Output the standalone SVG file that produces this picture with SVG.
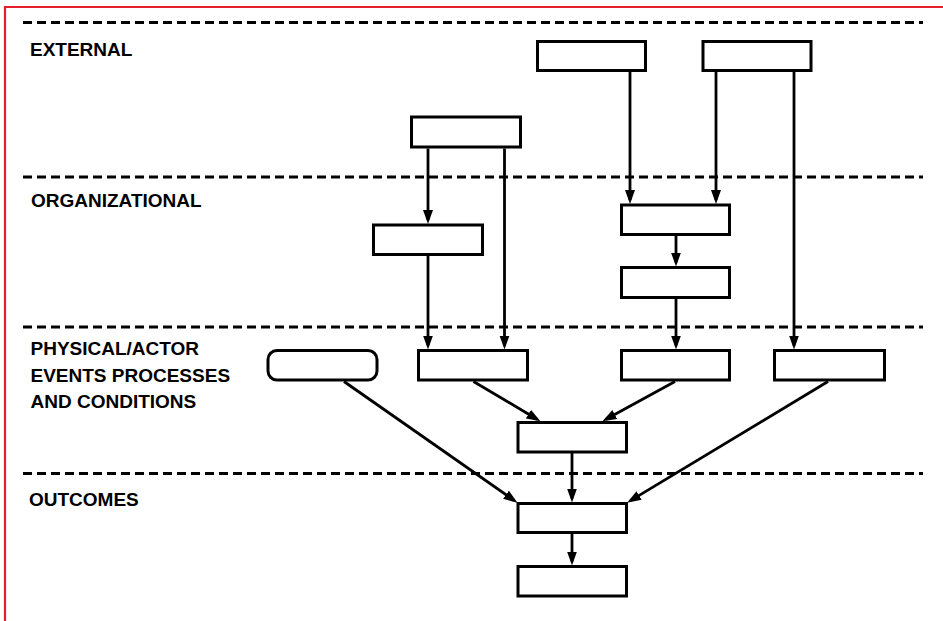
<svg xmlns="http://www.w3.org/2000/svg" width="943" height="621" viewBox="0 0 943 621">
<style>
.lbl{font-family:"Liberation Sans",Arial,sans-serif;font-weight:bold;font-size:19px;fill:#000}
.band{stroke:#000;stroke-width:3.2;stroke-dasharray:9 5;fill:none}
.box{fill:#fff;stroke:#000;stroke-width:3}
.con{stroke:#000;stroke-width:2.8;fill:none;marker-end:url(#ah)}
</style>
<defs>
<marker id="ah" markerUnits="userSpaceOnUse" markerWidth="15" markerHeight="11" refX="10" refY="5" orient="auto">
<path d="M0,0 L14,5 L0,10 z" fill="#000"/>
</marker>
</defs>
<rect width="943" height="621" fill="#fff"/>
<path d="M5,621 V7 H943" fill="none" stroke="#e51e2b" stroke-width="2.2"/>
<g id="bands">
<line class="band" x1="23" y1="22.5" x2="923" y2="22.5"/>
<line class="band" x1="23" y1="177" x2="923" y2="177"/>
<line class="band" x1="23" y1="327" x2="923" y2="327"/>
<line class="band" x1="23" y1="473.5" x2="923" y2="473.5"/>
</g>
<g id="labels">
<text class="lbl" x="30" y="56">EXTERNAL</text>
<text class="lbl" x="31" y="206.5">ORGANIZATIONAL</text>
<text class="lbl" x="30.5" y="355">PHYSICAL/ACTOR</text>
<text class="lbl" x="30.5" y="381.5">EVENTS PROCESSES</text>
<text class="lbl" x="30.5" y="407.5">AND CONDITIONS</text>
<text class="lbl" x="29" y="506">OUTCOMES</text>
</g>
<g id="connectors">
<line class="con" x1="630" y1="72" x2="630" y2="200"/>
<line class="con" x1="716" y1="72" x2="716" y2="200"/>
<line class="con" x1="794" y1="72" x2="794" y2="345.5"/>
<line class="con" x1="428" y1="148.5" x2="428" y2="220"/>
<line class="con" x1="504.5" y1="148.5" x2="504.5" y2="345.5"/>
<line class="con" x1="428" y1="256" x2="428" y2="345.5"/>
<line class="con" x1="676" y1="235.5" x2="676" y2="262.5"/>
<line class="con" x1="676" y1="298.5" x2="676" y2="345.5"/>
<line class="con" x1="344" y1="381.5" x2="514.2" y2="500.5"/>
<line class="con" x1="473.5" y1="381.5" x2="537" y2="419.2"/>
<line class="con" x1="675" y1="381.5" x2="606" y2="419.3"/>
<line class="con" x1="828" y1="381.5" x2="630.5" y2="500.6"/>
<line class="con" x1="572" y1="453" x2="572" y2="498.5"/>
<line class="con" x1="572" y1="534" x2="572" y2="561.5"/>
</g>
<g id="ext-a"><rect class="box" x="537.5" y="41.5" width="108" height="29"/></g>
<g id="ext-b"><rect class="box" x="703" y="41.5" width="108" height="29"/></g>
<g id="ext-c"><rect class="box" x="411.5" y="117" width="109" height="30"/></g>
<g id="org-l"><rect class="box" x="373.5" y="225" width="109" height="29.5"/></g>
<g id="org-r1"><rect class="box" x="621.5" y="205" width="108" height="29.5"/></g>
<g id="org-r2"><rect class="box" x="621.5" y="267.5" width="108" height="30"/></g>
<g id="phys-0"><rect class="box" x="268" y="350.5" width="109" height="29.5" rx="9" ry="9"/></g>
<g id="phys-1"><rect class="box" x="418.5" y="350.5" width="109" height="29.5"/></g>
<g id="phys-2"><rect class="box" x="621.5" y="350.5" width="108" height="29.5"/></g>
<g id="phys-3"><rect class="box" x="774.5" y="350.5" width="110" height="29.5"/></g>
<g id="mid"><rect class="box" x="518" y="422.5" width="108.5" height="29.5"/></g>
<g id="outcome"><rect class="box" x="518" y="503.5" width="108.5" height="29"/></g>
<g id="final"><rect class="box" x="518" y="566.5" width="108.5" height="29.5"/></g>
</svg>
